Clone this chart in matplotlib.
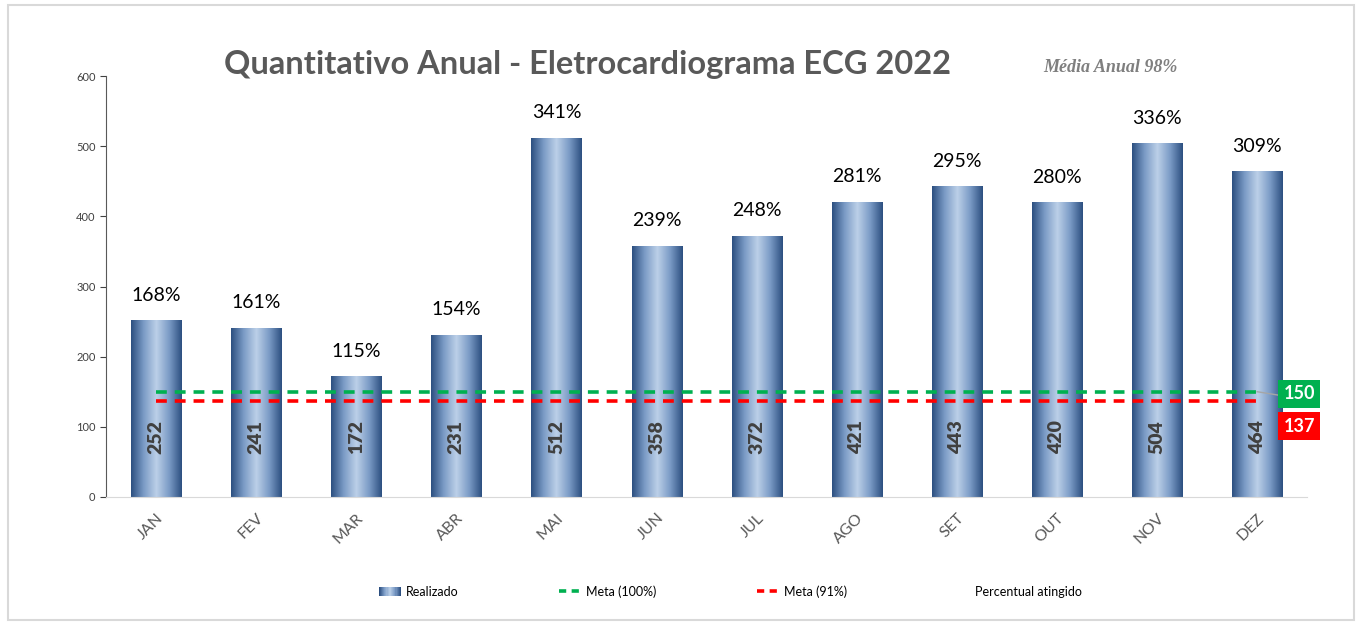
import matplotlib.pyplot as plt
import numpy as np
from matplotlib.patches import Rectangle
from matplotlib.lines import Line2D
from matplotlib.legend_handler import HandlerBase
from matplotlib.colors import LinearSegmentedColormap

meses = ["JAN", "FEV", "MAR", "ABR", "MAI", "JUN", "JUL", "AGO", "SET", "OUT", "NOV", "DEZ"]
realizado = [252, 241, 172, 231, 512, 358, 372, 421, 443, 420, 504, 464]
percentual = ["168%", "161%", "115%", "154%", "341%", "239%", "248%", "281%", "295%", "280%", "336%", "309%"]
meta_100 = 150
meta_91 = 137

cmap = LinearSegmentedColormap.from_list("barra", ["#2c4f80", "#7b9bc6", "#bcd0e8", "#7b9bc6", "#2c4f80"])
grad = np.linspace(0, 1, 256).reshape(1, -1)

narrow = ["Lato", "DejaVu Sans"]


class GradHandler(HandlerBase):
    def create_artists(self, legend, orig, xd, yd, w, h, fontsize, trans):
        n = 20
        arts = []
        for i in range(n):
            r = Rectangle((xd + w * i / n, yd), w / n + 0.3, h, facecolor=cmap(i / (n - 1)),
                          edgecolor="none", transform=trans)
            arts.append(r)
        return arts


fig = plt.figure(figsize=(13.62, 6.29), dpi=100)
ax = fig.add_axes([0.0778, 0.21, 0.882, 0.669])

x = np.arange(len(meses))
bars = ax.bar(x, realizado, width=0.5, color="none", edgecolor="none", zorder=2)
for b in bars:
    im = ax.imshow(grad, cmap=cmap, aspect="auto", zorder=2,
                   extent=[b.get_x(), b.get_x() + b.get_width(), 0, b.get_height()])
    im.set_clip_path(b)

ax.plot([0, 11], [meta_100, meta_100], color="#00b050", ls=(0, (3, 2.2)), lw=2.6, zorder=3)
ax.plot([0, 11], [meta_91, meta_91], color="#ff0000", ls=(0, (3, 2.2)), lw=2.6, zorder=3)

for i, v in enumerate(realizado):
    ax.text(i, 85, str(v), rotation=90, ha="center", va="center", fontsize=14,
            fontweight="heavy", color="#404040", family=narrow, zorder=4)
    ax.annotate(percentual[i], (i, v), xytext=(0, 12), textcoords="offset points",
                ha="center", va="bottom", fontsize=14, color="black", family=narrow)

# caixas 150 / 137
ax.plot([11, 11.26], [meta_100, 144], color="#a6a6a6", lw=1, zorder=3)
ax.text(11.42, 147, str(meta_100), ha="center", va="center", fontsize=13, fontweight="bold",
        color="white", family=narrow, zorder=5,
        bbox=dict(boxstyle="square,pad=0.3", fc="#00b050", ec="none"))
ax.text(11.42, 101, str(meta_91), ha="center", va="center", fontsize=13, fontweight="bold",
        color="white", family=narrow, zorder=5,
        bbox=dict(boxstyle="square,pad=0.3", fc="#ff0000", ec="none"))

ax.set_xlim(-0.5, 11.5)
ax.set_ylim(0, 600)
ax.set_yticks(range(0, 601, 100))
ax.set_xticks(x)
ax.set_xticklabels(meses, rotation=45, ha="right", rotation_mode="anchor",
                   fontsize=11.5, color="#595959", family=narrow)
ax.tick_params(axis="x", length=0, pad=10)
ax.tick_params(axis="y", labelsize=8, colors="#404040", length=4, direction="out")
for t in ax.get_yticklabels():
    t.set_family(narrow)
for s in ["top", "right"]:
    ax.spines[s].set_visible(False)
ax.spines["left"].set_color("#595959")
ax.spines["bottom"].set_color("#d9d9d9")

fig.text(0.431, 0.897, "Quantitativo Anual - Eletrocardiograma ECG 2022", ha="center", va="center",
         fontsize=23.5, fontweight="bold", color="#595959", family=narrow)
fig.text(0.815, 0.893, "Média Anual 98%", ha="center", va="center", fontsize=13,
         fontweight="bold", style="italic", color="#7f7f7f", family="Liberation Serif")

handles = [Rectangle((0, 0), 1, 1),
           Line2D([], [], color="#00b050", ls=(0, (2, 1.5)), lw=2.6),
           Line2D([], [], color="#ff0000", ls=(0, (2, 1.5)), lw=2.6),
           Line2D([], [], color="none")]
labels = ["Realizado", "Meta (100%)", "Meta (91%)", "Percentual atingido"]
fig.legend(handles, labels, loc="center", bbox_to_anchor=(0.536, 0.06), ncol=4, frameon=False,
           handler_map={Rectangle: GradHandler()}, prop={"family": narrow, "size": 9},
           handlelength=1.8, columnspacing=8.0, handletextpad=0.4)

fig.patches.append(Rectangle((0.006, 0.014), 0.988, 0.978, transform=fig.transFigure,
                             fill=False, ec="#d9d9d9", lw=1.5))

plt.savefig("out.png", dpi=100)
